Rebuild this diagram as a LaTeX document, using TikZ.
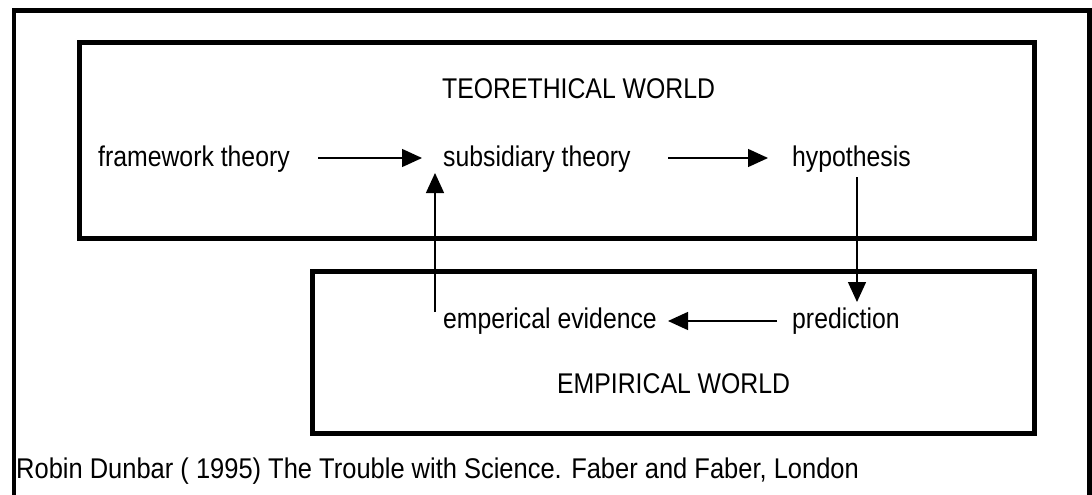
\documentclass[tikz,border=0pt]{standalone}
\usepackage{fontspec}
\setmainfont{Liberation Sans}[FakeStretch=0.87]
\newfontfamily\citefont{Liberation Sans}[FakeStretch=0.894]
\usetikzlibrary{arrows.meta}
\begin{document}
\begin{tikzpicture}[x=1pt,y=-1pt,
  lbl/.style={inner sep=0pt,anchor=base west,font=\fontsize{28.5}{32}\selectfont},
  world/.style={draw,line width=5pt},
  frame/.style={draw,line width=4.5pt},
  conn/.style={line width=1.4pt,-{Triangle[length=20pt,width=18pt]}}]
\useasboundingbox (0,0) rectangle (1092,495);
% outer frame
\draw[frame] (14,500) -- (14,10.5) -- (1089.5,10.5) -- (1089.5,500);
% worlds
\draw[world] (79.5,42.5) rectangle (1034.5,238);
\draw[world] (312.5,271) rectangle (1034.5,433.5);
% labels
\node[lbl] (tw) at (442,98) {TEORETHICAL WORLD};
\node[lbl] (fw) at (98,166) {framework theory};
\node[lbl] (sub) at (443,166) {subsidiary theory};
\node[lbl] (hyp) at (792,166) {hypothesis};
\node[lbl] (pred) at (792,328) {prediction};
\node[lbl] (ev) at (443,328) {emperical evidence};
\node[lbl] (ew) at (557,393) {EMPIRICAL WORLD};
\node[lbl,font=\citefont\fontsize{28.5}{32}\selectfont] (cite) at (16,478) {Robin Dunbar ( 1995) The Trouble with Science. Faber and Faber, London};
% connector ends
\coordinate (a1s) at (318,158);
\coordinate (a1e) at (422,158);
\coordinate (a2s) at (668,158);
\coordinate (a2e) at (768,158);
\coordinate (a3s) at (857,177);
\coordinate (a3e) at (857,302);
\coordinate (a4s) at (777,321);
\coordinate (a4e) at (668,321);
\coordinate (a5s) at (435,312);
\coordinate (a5e) at (435,173);
\draw[conn] (a1s) -- (a1e);
\draw[conn] (a2s) -- (a2e);
\draw[conn] (a3s) -- (a3e);
\draw[conn] (a4s) -- (a4e);
\draw[conn] (a5s) -- (a5e);
\end{tikzpicture}
\end{document}
